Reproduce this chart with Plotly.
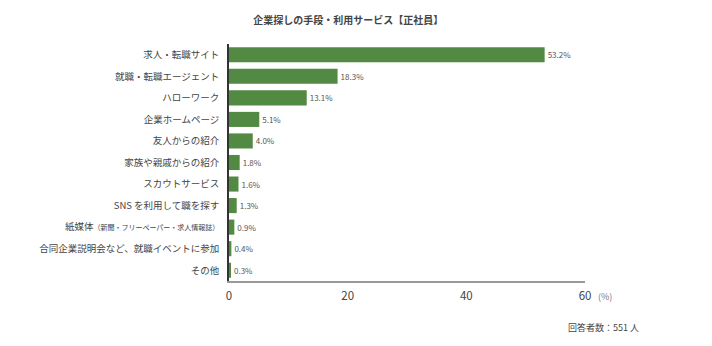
import plotly.graph_objects as go

categories = [
    "求人・転職サイト",
    "就職・転職エージェント",
    "ハローワーク",
    "企業ホームページ",
    "友人からの紹介",
    "家族や親戚からの紹介",
    "スカウトサービス",
    "SNS を利用して職を探す",
    "紙媒体<span style='font-size:7px'>（新聞・フリーペーパー・求人情報誌）</span>",
    "合同企業説明会など、就職イベントに参加",
    "その他",
]
values = [53.2, 18.3, 13.1, 5.1, 4.0, 1.8, 1.6, 1.3, 0.9, 0.4, 0.3]
x_ticks = [0, 20, 40, 60]

FONT = "Noto Sans CJK JP"

fig = go.Figure(
    go.Bar(
        x=values,
        y=categories,
        orientation="h",
        marker=dict(color="#528a43", line=dict(width=0)),
        width=0.7,
        text=[f"{v:.1f}%" for v in values],
        textposition="outside",
        textfont=dict(size=8, color="#555555", family=FONT),
        cliponaxis=False,
    )
)

fig.update_layout(
    width=712,
    height=346,
    margin=dict(l=229, r=127, t=44, b=65),
    plot_bgcolor="white",
    paper_bgcolor="white",
    showlegend=False,
    font=dict(family=FONT, color="#444444"),
    title=dict(
        text="<b>企業探しの手段・利用サービス【正社員】</b>",
        x=0.489, xanchor="center", y=0.94, yanchor="middle",
        font=dict(size=10, color="#444444", family=FONT),
    ),
    bargap=0.3,
)

fig.update_xaxes(
    range=[0, 60],
    tickvals=x_ticks,
    ticktext=[str(t) for t in x_ticks],
    showgrid=False,
    zeroline=False,
    showline=True,
    linecolor="#999999",
    linewidth=1.5,
    ticks="",
    ticklabelstandoff=3,
    tickfont=dict(size=11.5, color="#444444"),
)

fig.update_yaxes(
    autorange="reversed",
    showgrid=False,
    zeroline=False,
    showline=True,
    linecolor="#333333",
    linewidth=1.5,
    ticks="",
    ticklabelstandoff=6,
    tickfont=dict(size=9.5, color="#444444"),
)

# plot area: x 229..585, y 44..281 (height 237)
fig.add_annotation(
    x=60, xshift=11, y=(281 - 296) / 237, xref="x", yref="paper",
    text="(%)", showarrow=False, xanchor="left", yanchor="middle",
    font=dict(size=9, color="#777777", family=FONT),
)
fig.add_annotation(
    x=(641 - 229) / 356, y=(281 - 327) / 237, xref="paper", yref="paper",
    text="回答者数：551 人", showarrow=False, xanchor="right", yanchor="middle",
    font=dict(size=9, color="#444444", family=FONT),
)

fig.write_html("out.html")
